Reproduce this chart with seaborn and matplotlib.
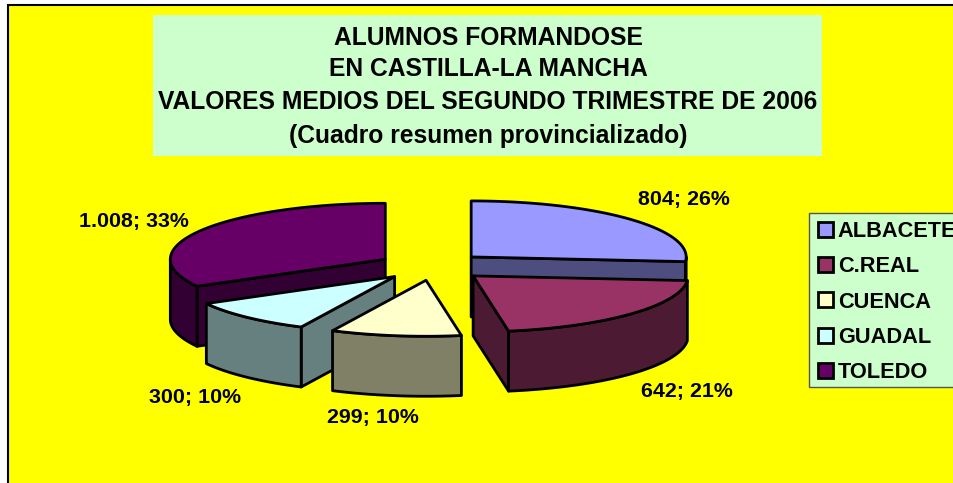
import numpy as np
import matplotlib.pyplot as plt
import seaborn as sns
from matplotlib.patches import Polygon, Patch, Rectangle

title_lines = ["ALUMNOS FORMANDOSE", "EN CASTILLA-LA MANCHA",
               "VALORES MEDIOS DEL SEGUNDO TRIMESTRE DE 2006",
               "(Cuadro resumen provincializado)"]
provinces = ["ALBACETE", "C.REAL", "CUENCA", "GUADAL", "TOLEDO"]
alumnos = [804, 642, 299, 300, 1008]
colors = ["#9999FF", "#993366", "#FFFFCC", "#CCFFFF", "#660066"]

# pie geometry, in pixels of the picture
CX, CY = 431.6, 266.4
RX, RY = 215, 56
DEPTH = 60
EXPLODE = 0.25
LW = 2
nudge = [0, 2, 2, 0, 0]
label_pos = [(684, 200), (687, 392), (373, 418), (195, 398), (134, 222)]
title_y = [38, 69, 102, 136]
# back to front
draw_order = [4, 0, 3, 2, 1]


def rim_point(cx, cy, deg):
    t = np.radians(deg)
    return cx + RX * np.sin(t), cy - RY * np.cos(t)


def shade(color):
    r, g, b = plt.matplotlib.colors.to_rgb(color)
    return (r / 2, g / 2, b / 2)


def wall(ax, apex, deg, color):
    x, y = rim_point(apex[0], apex[1], deg)
    pts = [apex, (x, y), (x, y + DEPTH), (apex[0], apex[1] + DEPTH)]
    ax.add_patch(Polygon(pts, fc=shade(color), ec="black", lw=LW, joinstyle="round"))


def draw_slice(ax, start, end, color, dx):
    mid = np.radians((start + end) / 2)
    apex = (CX + dx + EXPLODE * RX * np.sin(mid), CY - EXPLODE * RY * np.cos(mid))
    if np.sin(np.radians(start)) < -1e-6:
        wall(ax, apex, start, color)
    if np.sin(np.radians(end)) > 1e-6:
        wall(ax, apex, end, color)
    lo, hi = max(start, 90), min(end, 270)
    if hi > lo:
        x, y = rim_point(apex[0], apex[1], np.linspace(lo, hi, 80))
        pts = np.r_[np.c_[x, y], np.c_[x, y + DEPTH][::-1]]
        ax.add_patch(Polygon(pts, fc=shade(color), ec="black", lw=LW, joinstyle="round"))
    x, y = rim_point(apex[0], apex[1], np.linspace(start, end, 120))
    pts = np.r_[[apex], np.c_[x, y]]
    ax.add_patch(Polygon(pts, fc=color, ec="black", lw=LW, joinstyle="round"))


sns.set_theme(style="white")
plt.rcParams['font.family'] = ['Liberation Sans', 'DejaVu Sans']

fig = plt.figure(figsize=(9.54, 4.83), dpi=100, facecolor="white")
ax = fig.add_axes([0, 0, 1, 1])
ax.set_xlim(0, 954)
ax.set_ylim(483, 0)
ax.axis("off")

# chart area, its right and bottom edges run off the picture
ax.add_patch(Rectangle((8, 5), 960, 490, fc="#FFFF00", ec="black", lw=1.5))

ax.add_patch(Rectangle((153, 15), 669, 141, fc="#CCFFCC", ec="none"))
for line, y in zip(title_lines, title_y):
    ax.text(488, y, line, ha="center", va="center", fontsize=17.7, fontweight="bold", color="black")

total = sum(alumnos)
edges = np.r_[0, np.cumsum(alumnos)] / total * 360
for i in draw_order:
    draw_slice(ax, edges[i], edges[i + 1], colors[i], nudge[i])

for v, (x, y) in zip(alumnos, label_pos):
    txt = f"{v:,}".replace(",", ".") + f"; {round(100 * v / total)}%"
    ax.text(x, y, txt, ha="center", va="center", fontsize=15.4, fontweight="bold", color="black")

# legend frame drawn apart, the box in the picture is shorter than the default one
ax.add_patch(Rectangle((809, 213), 160, 174, fc="#CCFFCC", ec="#555555", lw=1))
handles = [Patch(fc=c, ec="black", lw=LW) for c in colors]
ax.legend(handles, provinces, loc="upper left", bbox_to_anchor=(809, 212),
          bbox_transform=ax.transData, borderaxespad=0, frameon=False,
          prop={"size": 15.7, "weight": "bold"}, labelcolor="black",
          handlelength=0.68, handleheight=0.68, handletextpad=0.24,
          labelspacing=0.66, borderpad=0.4)

fig.savefig("out.png", dpi=100)
